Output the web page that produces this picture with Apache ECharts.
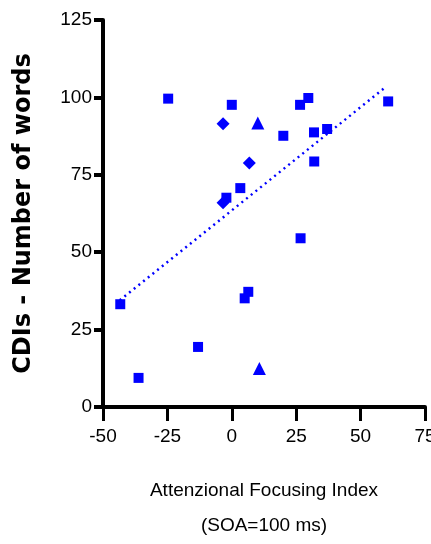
<!DOCTYPE html>
<html><head><meta charset="utf-8">
<script src="https://cdn.jsdelivr.net/npm/echarts@6/dist/echarts.min.js"></script>
<style>html,body{margin:0;padding:0;background:#fff}#c{width:431px;height:544px}</style>
</head><body><div id="c"></div>
<script>
// Attentional Focusing Index (x) vs CDIs number of words (y)
const pointsX = [-43.3, -36.2, -24.7, -13.1, -3.4, 0.0, -3.4, -2.1, 3.3, 6.8, 10.1, 5.0, 6.4, 10.7, 20.0, 26.5, 29.7, 31.9, 32.0, 26.7, 37.0, 60.7];
const pointsY = [33.2, 9.4, 99.6, 19.4, 91.5, 97.6, 66.0, 67.6, 70.7, 78.8, 91.7, 35.1, 37.2, 12.4, 87.6, 97.6, 99.8, 88.7, 79.3, 54.5, 89.8, 98.7];
const pointShapes = ['rect','rect','rect','rect','diamond','rect','diamond','rect','rect','diamond','triangle','rect','rect','triangle','rect','rect','rect','rect','rect','rect','rect','rect'];
const fitX = [-43.5, 60.0];
const fitY = [34.5, 103.5];
const xTicks = [-50, -25, 0, 25, 50, 75];
const yTicks = [0, 25, 50, 75, 100, 125];

const blue = '#0000ff';
const sans = '"Liberation Sans", Arial, sans-serif';
const chart = echarts.init(document.getElementById('c'), null, {renderer: 'canvas'});
chart.setOption({
  animation: false,
  grid: {left: 103, right: 6, top: 20, bottom: 137, containLabel: false, outerBoundsMode: 'none'},
  xAxis: {
    type: 'value', min: xTicks[0], max: xTicks[xTicks.length - 1], interval: 25,
    name: 'Attenzional Focusing Index\n(SOA=100 ms)',
    nameLocation: 'middle', nameGap: 66,
    nameTextStyle: {fontFamily: sans, fontSize: 19, color: '#000', lineHeight: 35},
    axisLine: {onZero: false, lineStyle: {color: '#000', width: 4}},
    axisTick: {length: 14, lineStyle: {color: '#000', width: 3}},
    axisLabel: {fontFamily: sans, fontSize: 19, color: '#000', margin: 20, showMaxLabel: true},
    splitLine: {show: false}
  },
  yAxis: {
    type: 'value', min: yTicks[0], max: yTicks[yTicks.length - 1], interval: 25,
    name: 'CDIs - Number of words',
    nameLocation: 'middle', nameGap: 67, nameRotate: 90,
    nameTextStyle: {fontFamily: '"DejaVu Sans", sans-serif', fontWeight: 'bold', fontSize: 24, color: '#000'},
    axisLine: {onZero: false, lineStyle: {color: '#000', width: 4}},
    axisTick: {length: 9, lineStyle: {color: '#000', width: 4}},
    axisLabel: {fontFamily: sans, fontSize: 19, color: '#000', margin: 11},
    splitLine: {show: false}
  },
  series: [
    {
      type: 'line',
      data: fitX.map((x, i) => [x, fitY[i]]),
      showSymbol: false, symbol: 'none',
      lineStyle: {color: blue, width: 2.5, type: [2, 4]},
      z: 2
    },
    {
      type: 'scatter',
      data: pointsX.map((x, i) => ({value: [x, pointsY[i]], symbol: pointShapes[i], symbolSize: pointShapes[i] === 'rect' ? 10 : 13})),
      itemStyle: {color: blue, opacity: 1},
      z: 3
    }
  ]
});
</script></body></html>
